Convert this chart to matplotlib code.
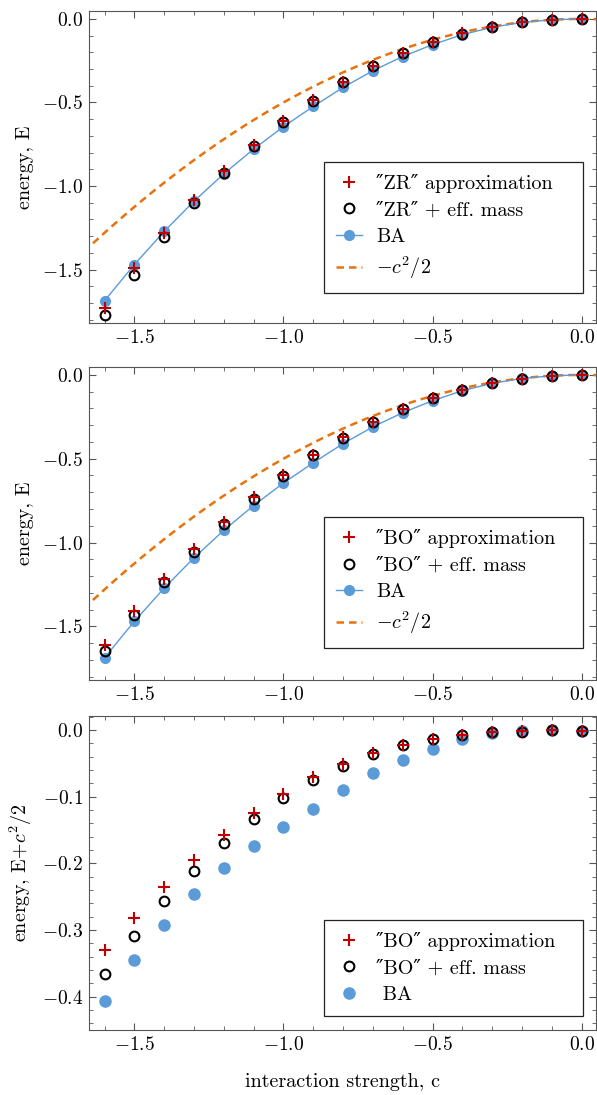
import matplotlib
matplotlib.use("Agg")
import matplotlib.pyplot as plt
import numpy as np
from matplotlib.ticker import MultipleLocator

plt.rcParams['font.family'] = ['cmr10', 'DejaVu Serif']
plt.rcParams['mathtext.fontset'] = 'cm'
plt.rcParams['axes.formatter.use_mathtext'] = True
plt.rcParams['axes.unicode_minus'] = True

# interaction strength
c = [-1.6, -1.5, -1.4, -1.3, -1.2, -1.1, -1.0, -0.9, -0.8,
     -0.7, -0.6, -0.5, -0.4, -0.3, -0.2, -0.1, 0.0]

# panel 1: ZR
zr_approx = [-1.731, -1.491, -1.281, -1.082, -0.912, -0.752, -0.613, -0.487, -0.375,
             -0.279, -0.204, -0.138, -0.086, -0.046, -0.020, -0.004, 0.0]
zr_mass = [-1.772, -1.531, -1.307, -1.104, -0.922, -0.758, -0.615, -0.489, -0.377,
           -0.283, -0.204, -0.140, -0.088, -0.048, -0.020, -0.004, 0.0]
ba = [-1.687, -1.470, -1.272, -1.091, -0.927, -0.779, -0.645, -0.524, -0.410,
      -0.310, -0.225, -0.154, -0.094, -0.050, -0.021, -0.005, 0.0]

# panel 2: BO
bo_approx = [-1.610, -1.407, -1.216, -1.040, -0.877, -0.729, -0.596, -0.475, -0.371,
             -0.280, -0.202, -0.138, -0.087, -0.048, -0.022, -0.005, 0.0]
bo_mass = [-1.646, -1.434, -1.237, -1.056, -0.889, -0.738, -0.602, -0.480, -0.374,
           -0.281, -0.203, -0.139, -0.087, -0.048, -0.023, -0.005, 0.0]

# panel 3: E + c^2/2
bo_approx_s = [-0.330, -0.282, -0.236, -0.195, -0.157, -0.124, -0.096, -0.070, -0.051,
               -0.035, -0.022, -0.013, -0.007, -0.003, -0.002, 0.0, -0.001]
bo_mass_s = [-0.366, -0.309, -0.257, -0.211, -0.169, -0.133, -0.102, -0.075, -0.054,
             -0.036, -0.023, -0.014, -0.007, -0.003, -0.003, 0.0, -0.001]
ba_s = [-0.407, -0.345, -0.292, -0.246, -0.207, -0.174, -0.145, -0.119, -0.090,
        -0.065, -0.045, -0.029, -0.014, -0.005, -0.002, 0.0, -0.001]

red = '#C00000'
blue = '#5B9BD8'
orange = '#E8720C'
frame = '#555555'
q = '\u2033'

fig = plt.figure(figsize=(5.97, 10.95), dpi=100)
ax1 = fig.add_axes([0.1491, 0.7050, 0.8492, 0.2849])
ax2 = fig.add_axes([0.1491, 0.3790, 0.8492, 0.2858])
ax3 = fig.add_axes([0.1491, 0.0594, 0.8492, 0.2868])

cc = np.linspace(-1.7, 0.05, 200)


def style(ax, major, minor):
    ax.set_xlim(-1.652, 0.048)
    ax.xaxis.set_major_locator(MultipleLocator(0.5))
    ax.xaxis.set_minor_locator(MultipleLocator(0.1))
    ax.yaxis.set_major_locator(MultipleLocator(major))
    ax.yaxis.set_minor_locator(MultipleLocator(minor))
    ax.tick_params(which='both', direction='in', top=True, right=True,
                   color=frame, labelsize=14, pad=4)
    ax.tick_params(which='major', length=5)
    ax.tick_params(which='minor', length=3)
    for s in ax.spines.values():
        s.set_color(frame)


def legend(ax, y0, y1):
    leg = ax.legend(loc='lower left', bbox_to_anchor=(0.4635, y0, 0.5105, y1 - y0),
                    mode='expand', borderaxespad=0, fancybox=False, framealpha=1,
                    edgecolor='#222222', fontsize=14.5, handlelength=1.3,
                    labelspacing=0.42, handletextpad=0.7, borderpad=0.6)
    leg.get_frame().set_linewidth(0.9)


for ax, a, m, name, y0, y1 in [(ax1, zr_approx, zr_mass, 'ZR', 0.096, 0.51),
                               (ax2, bo_approx, bo_mass, 'BO', 0.101, 0.513)]:
    ax.plot(c, a, '+', color=red, ms=8, mew=1.5, zorder=5,
            label=q + name + q + ' approximation')
    ax.plot(c, m, 'o', mfc='none', mec='black', ms=7, mew=1.5, zorder=4,
            label=q + name + q + ' + eff. mass')
    ax.plot(c, ba, '-o', color=blue, lw=1, ms=7, zorder=3, label='BA')
    ax.plot(cc, -cc ** 2 / 2, '--', color=orange, lw=1.8, dashes=(3, 2),
            zorder=2, label=r'$-c^2/2$')
    ax.set_ylim(-1.82, 0.047)
    style(ax, 0.5, 0.1)
    ax.set_ylabel('energy, E', fontsize=14.5, labelpad=6)
    legend(ax, y0, y1)

ax3.plot(c, bo_approx_s, '+', color=red, ms=8, mew=1.5, zorder=5,
         label=q + 'BO' + q + ' approximation')
ax3.plot(c, bo_mass_s, 'o', mfc='none', mec='black', ms=7, mew=1.5, zorder=4,
         label=q + 'BO' + q + ' + eff. mass')
ax3.plot(c, ba_s, 'o', color=blue, ms=8, zorder=3, label=' BA')
ax3.set_ylim(-0.45, 0.021)
style(ax3, 0.1, 0.02)
ax3.set_ylabel('energy, E+$c^2$/2', fontsize=14.5, labelpad=6)
ax3.set_xlabel('interaction strength, c', fontsize=14.5, labelpad=14)
legend(ax3, 0.0446, 0.380)

fig.savefig('out.png', dpi=100)
